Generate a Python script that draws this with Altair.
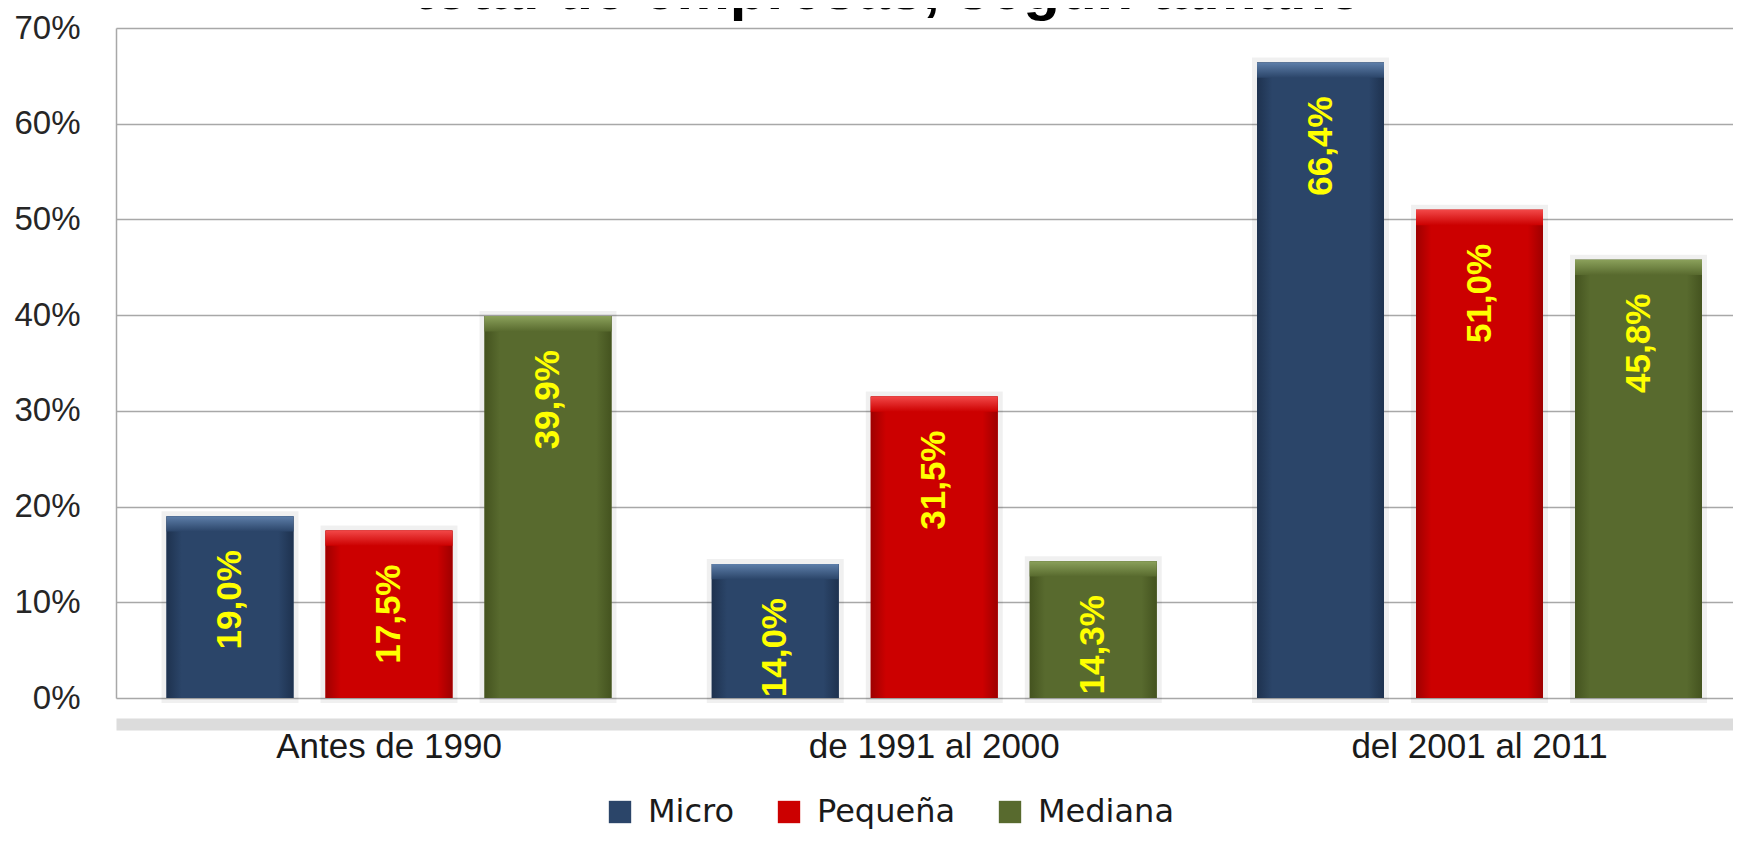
import altair as alt
import pandas as pd

# ---- data ----
categories = ["Antes de 1990", "de 1991 al 2000", "del 2001 al 2011"]
series = ["Micro", "Pequeña", "Mediana"]
micro = [19.0, 14.0, 66.4]
pequena = [17.5, 31.5, 51.0]
mediana = [39.9, 14.3, 45.8]
y_ticks = [0, 10, 20, 30, 40, 50, 60, 70]
title_text = "total de empresas, según tamaño"

colors = ["#2B4569", "#CC0000", "#586A2E"]
dark_colors = ["#1E324F", "#9E0000", "#44531F"]
light_colors = ["#5E7FAA", "#F24848", "#8BA15B"]

rows = []
for s, vals in zip(series, [micro, pequena, mediana]):
    for c, v in zip(categories, vals):
        rows.append({"cat": c, "serie": s, "valor": v / 100.0,
                     "etiqueta": f"{v:.1f}".replace(".", ",") + "%"})
df = pd.DataFrame(rows)

AX_FONT = "Liberation Sans"

x_enc = alt.X(
    "cat:N", sort=categories,
    scale=alt.Scale(domain=categories, paddingInner=0.1252, paddingOuter=0.0454, align=0.697),
    axis=alt.Axis(title=None, orient="bottom", offset=26, domainColor="#DCDCDC", domainWidth=12,
                  ticks=False, labelPadding=5, labelFont=AX_FONT, labelFontSize=35,
                  labelLimit=600, labelColor="#1A1A1A", labelAngle=0, grid=False),
)
xo_enc = alt.XOffset("serie:N", sort=series,
                     scale=alt.Scale(domain=series, paddingInner=0.2013, paddingOuter=0.1006))
y_enc = alt.Y(
    "valor:Q",
    scale=alt.Scale(domain=[0, 0.7], nice=False),
    axis=alt.Axis(title=None, values=[t / 100 for t in y_ticks], format=".0%", grid=True,
                  gridColor="#A8A8A8", gridWidth=1.5, domainColor="#A8A8A8", domainWidth=1.5,
                  ticks=False, labelPadding=36, labelFont=AX_FONT, labelFontSize=33,
                  labelColor="#262626"),
)

base = alt.Chart(df)

glow = base.mark_bar(fill="#000000", fillOpacity=0.05, stroke="#000000", strokeOpacity=0.06,
                     strokeWidth=10).encode(x=x_enc, xOffset=xo_enc, y=y_enc)

bars = base.mark_bar().encode(
    x=x_enc, xOffset=xo_enc, y=y_enc,
    color=alt.Color("serie:N", sort=series,
                    scale=alt.Scale(domain=series, range=colors),
                    legend=alt.Legend(title=None, orient="none", legendX=488, legendY=768,
                                      direction="horizontal", symbolType="square", symbolSize=500,
                                      symbolStrokeWidth=0, labelFont="DejaVu Sans", labelFontSize=32,
                                      labelColor="#1A1A1A", columnPadding=38, labelOffset=12,
                                      padding=0)),
)

layers = [glow, bars]
for s, c, d, l in zip(series, colors, dark_colors, light_colors):
    side = base.transform_filter(alt.datum.serie == s).mark_bar(
        fill=alt.Gradient(gradient="linear", x1=0, x2=1, y1=0, y2=0,
                          stops=[alt.GradientStop(color=d, offset=0),
                                 alt.GradientStop(color=c, offset=0.12),
                                 alt.GradientStop(color=c, offset=0.88),
                                 alt.GradientStop(color=d, offset=1)])
    ).encode(x=x_enc, xOffset=xo_enc, y=y_enc)
    top = base.transform_filter(alt.datum.serie == s).transform_calculate(
        tope="datum.valor - 0.016"
    ).mark_bar(
        fill=alt.Gradient(gradient="linear", x1=0, x2=0, y1=0, y2=1,
                          stops=[alt.GradientStop(color=l, offset=0),
                                 alt.GradientStop(color=c, offset=1)])
    ).encode(x=x_enc, xOffset=xo_enc, y=y_enc, y2="tope:Q")
    layers += [side, top]

labels = base.mark_text(angle=270, align="right", baseline="middle", dx=-34,
                        font="Liberation Sans", fontSize=35,
                        fontWeight="bold", color="#FFFF00").encode(
    x=x_enc, xOffset=xo_enc, y=y_enc, text="etiqueta:N")

title = alt.Chart(pd.DataFrame({"t": [title_text]})).mark_text(
    align="left", baseline="alphabetic", font="Liberation Sans", fontSize=60,
    fontWeight="bold", color="#000000"
).encode(text="t:N", x=alt.value(297), y=alt.value(-19))

layers += [labels, title]

chart = alt.layer(*layers).properties(
    width=1617, height=670,
    padding={"left": 108, "top": 20, "right": 0, "bottom": 134},
    autosize=alt.AutoSizeParams(type="none"),
    background="#FFFFFF",
).configure_view(strokeWidth=0)

chart.save("out.html", embed_options={"renderer": "svg", "actions": False})
